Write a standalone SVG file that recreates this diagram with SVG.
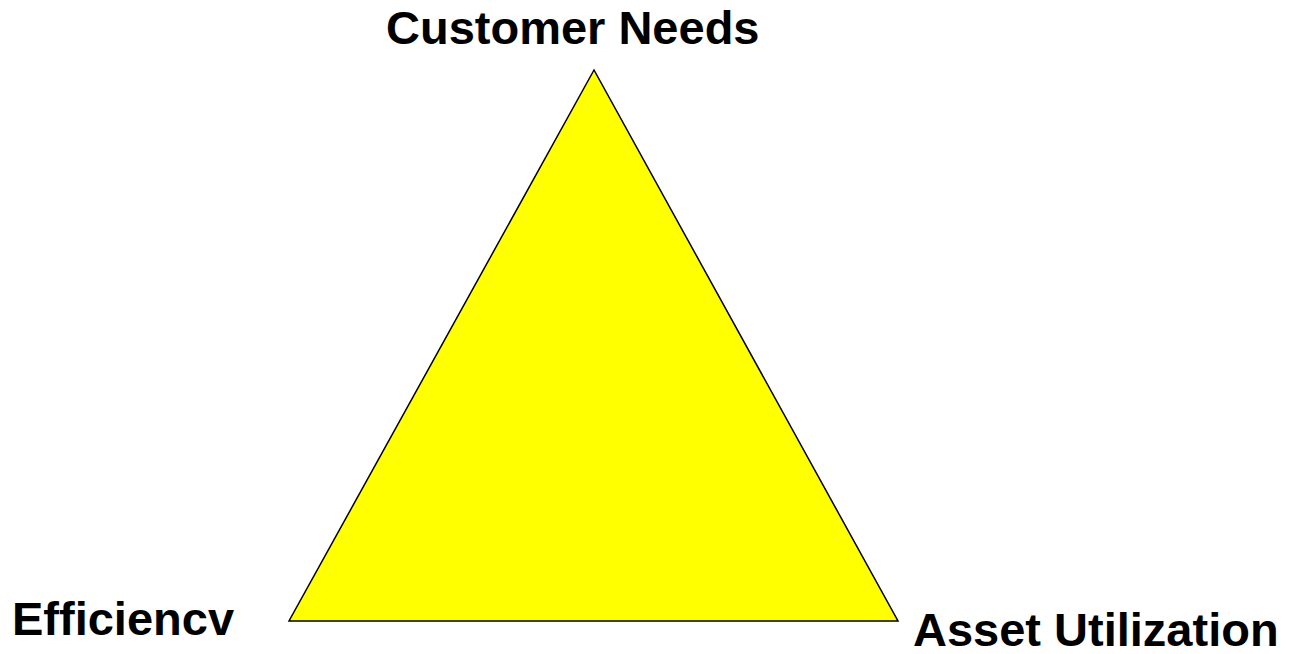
<svg xmlns="http://www.w3.org/2000/svg" width="1295" height="654" viewBox="0 0 1295 654">
<style>
.lbl{font-family:"Liberation Sans",Arial,sans-serif;font-weight:bold;font-size:47px;fill:#000}
.tri{fill:#ffff00;stroke:#000;stroke-width:1.5;stroke-linejoin:miter}
</style>
<rect width="1295" height="654" fill="#fff"/>
<g id="triangle">
<polygon class="tri" points="594,70 289,621 898,621"/>
</g>
<g id="customer-needs"><text class="lbl" x="386" y="44">Customer Needs</text></g>
<g id="efficiency"><text class="lbl" x="12" y="635">Efficiencv</text></g>
<g id="asset-utilization"><text class="lbl" x="913" y="646">Asset Utilization</text></g>
<g id="connectors"></g>
</svg>
